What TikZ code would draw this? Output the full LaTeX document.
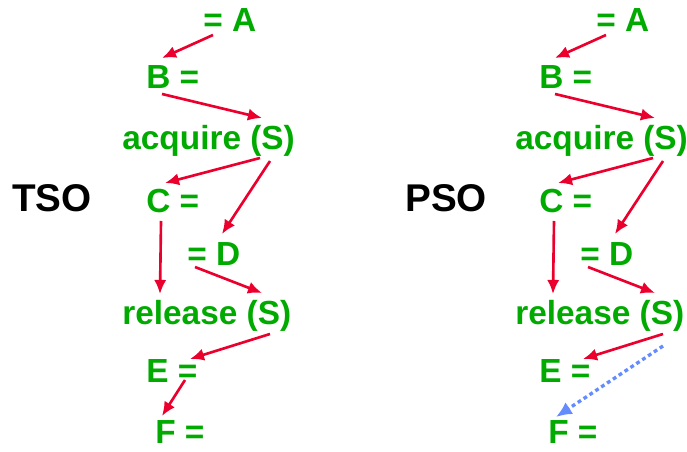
\documentclass[tikz,border=0pt]{standalone}
\usepackage{fontspec}
\setmainfont{Liberation Sans}
\usetikzlibrary{calc, arrows.meta}

\definecolor{stmtgreen}{RGB}{0,170,0}
\definecolor{orderred}{RGB}{235,0,45}
\definecolor{relaxblue}{RGB}{100,140,255}

\tikzset{
    stmt/.style={anchor=base west, inner sep=0pt, text=stmtgreen,
        font=\fontsize{19}{22}\selectfont\bfseries},
    model/.style={anchor=base west, inner sep=0pt,
        font=\fontsize{22}{26}\selectfont\bfseries},
    order/.style={draw=orderred, line width=1.5pt, -{Latex[length=8pt,width=7pt]}},
    relaxed/.style={draw=relaxblue, line width=1.9pt, dash pattern=on 2.2pt off 1.8pt,
        -{Latex[length=9pt,width=8pt]}}
}

\begin{document}
\begin{tikzpicture}[x=0.02cm, y=-0.02cm]
    \useasboundingbox (0,0) rectangle (687,452);

    % the same program, once per memory model
    \foreach \m/\name/\dx in {t/TSO/0, p/PSO/393} {
        \begin{scope}[shift={(\dx,0)}]
            \node[model] (\m-lbl) at (12,212) {\name};

            \node[stmt] (\m-A) at (203,32) {= A};
            \node[stmt] (\m-B) at (146,89) {B =};
            \node[stmt] (\m-acq) at (122,150) {acquire (S)};
            \node[stmt] (\m-C) at (146,213) {C =};
            \node[stmt] (\m-D) at (187,266) {= D};
            \node[stmt] (\m-rel) at (122,325) {release (S)};
            \node[stmt] (\m-E) at (146,383) {E =};
            \node[stmt] (\m-F) at (155,444) {F =};
        \end{scope}

        % ordering edges
        \draw[order] ($(\m-A.base west)+(10,3)$) -- ($(\m-B.base west)+(16,-31)$);
        \draw[order] ($(\m-B.base west)+(16,5)$) -- ($(\m-acq.base west)+(140,-32)$);
        \draw[order] ($(\m-acq.base west)+(138,8)$) -- ($(\m-C.base west)+(19,-30)$);
        \draw[order] ($(\m-acq.base west)+(148,11)$) -- ($(\m-D.base west)+(35,-32)$);
        \draw[order] ($(\m-C.base west)+(15,8)$) -- ($(\m-rel.base west)+(38,-31)$);
        \draw[order] ($(\m-D.base west)+(8,1)$) -- ($(\m-rel.base west)+(140,-32)$);
        \draw[order] ($(\m-rel.base west)+(148,9)$) -- ($(\m-E.base west)+(44,-24)$);
    }

    % E before F only holds under TSO
    \draw[order] ($(t-E.base west)+(39,-3)$) -- ($(t-F.base west)+(7,-28)$);
    \draw[relaxed] ($(p-rel.base west)+(148,21)$) -- ($(p-F.base west)+(8,-27)$);
\end{tikzpicture}
\end{document}
